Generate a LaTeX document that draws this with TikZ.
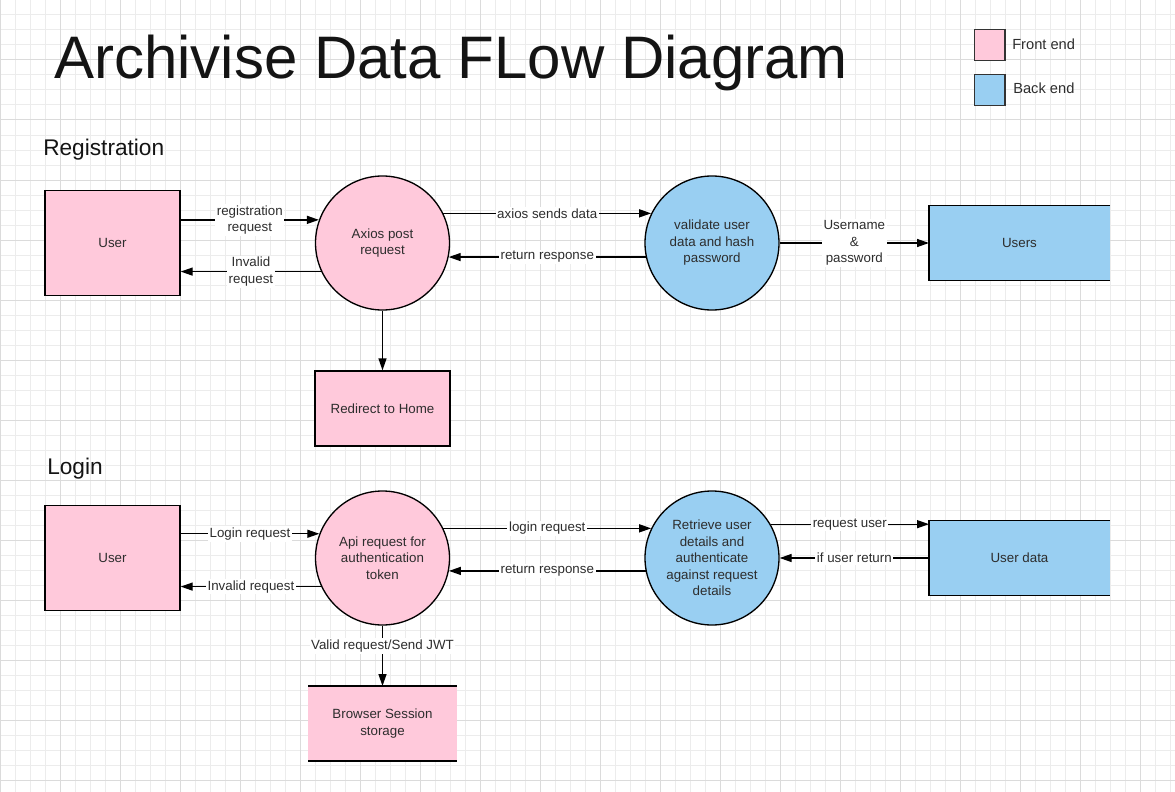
\documentclass[tikz,border=0pt]{standalone}
\usepackage{fontspec}
\setmainfont{Liberation Sans}
\usepackage{xcolor}
\usetikzlibrary{arrows.meta}

\definecolor{frontpink}{RGB}{255,201,219}
\definecolor{backblue}{RGB}{153,207,242}
\definecolor{inkgray}{RGB}{45,45,45}
\definecolor{gridminor}{RGB}{236,236,236}
\definecolor{gridmajor}{RGB}{219,219,219}

\begin{document}
\begin{tikzpicture}[x=0.75pt, y=-0.75pt,
  txt/.style={text=inkgray, font=\fontsize{10}{12.4}\selectfont, align=center},
  lbl/.style={txt, fill=white, inner sep=1.2pt},
  entity/.style={txt, draw=black, line width=1pt, fill=frontpink, inner sep=0pt,
    minimum width=101.25pt, minimum height=78.75pt},
  process/.style={txt, circle, draw=black, line width=1pt, inner sep=0pt, minimum size=100.5pt},
  store/.style={txt, fill=backblue, inner sep=0pt, outer sep=0pt,
    minimum width=135.75pt, minimum height=56.25pt},
  flow/.style={draw=black, line width=1pt, -{Triangle[length=9pt, width=6pt]}},
  heading/.style={text=black!92, inner sep=0pt, anchor=base west},
  key/.style={draw=black!80, line width=1pt, minimum size=23pt, inner sep=0pt}
]
\useasboundingbox (0,0) rectangle (1175,792);
% background grid
\foreach \gx in {0,15,...,1170} \draw[gridminor, line width=0.75pt] (\gx,0) -- (\gx,792);
\foreach \gy in {0,15,...,780} \draw[gridminor, line width=0.75pt] (0,\gy) -- (1175,\gy);
\foreach \gx in {0,60,...,1140} \draw[gridmajor, line width=0.75pt] (\gx,0) -- (\gx,792);
\foreach \gy in {0,60,...,780} \draw[gridmajor, line width=0.75pt] (0,\gy) -- (1175,\gy);

\node[heading, font=\fontsize{45}{50}\selectfont] (title) at (54,79) {Archivise Data FLow Diagram};
\node[key, fill=frontpink] (keyfront) at (989.5,45) {};
\node[key, fill=backblue] (keyback) at (989.5,90) {};
\node[heading, text=inkgray, font=\fontsize{11}{13}\selectfont] (keyfronttxt) at (1012,49.5) {Front end};
\node[heading, text=inkgray, font=\fontsize{11}{13}\selectfont] (keybacktxt) at (1013,93.5) {Back end};

% registration
\node[heading, font=\fontsize{17}{20}\selectfont] (regtitle) at (43,155) {Registration};
\node[entity] (reguser) at (112.5,243) {User};
\node[process, fill=frontpink] (axios) at (382.5,243) {Axios post\\request};
\node[process, fill=backblue] (validate) at (712,243) {validate user\\data and hash\\password};
\node[store] (users) at (1019.5,243) {Users};
\draw[line width=1pt] (users.north east) -- (users.north west) -- (users.south west) -- (users.south east);
\node[entity, minimum height=56.25pt] (redirect) at (382.5,408.5) {Redirect to Home};

\draw[flow] (reguser.east |- axios.160) -- node[lbl, midway] {registration\\request} (axios.160);
\draw[flow] (axios.205) -- node[lbl, midway] {Invalid\\request} (reguser.east |- axios.205);
\draw[flow] (axios.26) -- node[lbl, midway] {axios sends data} (validate.154);
\draw[flow] (validate.192) -- node[lbl, midway] {return response} (axios.-12);
\draw[flow] (validate.east) -- node[lbl, midway] {Username\\\&\\password} (users.west);
\draw[flow] (axios.south) -- (redirect.north);

% login
\node[heading, font=\fontsize{17}{20}\selectfont] (logtitle) at (47,474) {Login};
\node[entity] (loguser) at (112.5,558) {User};
\node[process, fill=frontpink] (api) at (382.5,558) {Api request for\\authentication\\token};
\node[process, fill=backblue] (retrieve) at (712,558) {Retrieve user\\details and\\authenticate\\against request\\details};
\node[store] (userdata) at (1019.5,558) {User data};
\draw[line width=1pt] (userdata.north east) -- (userdata.north west) -- (userdata.south west) -- (userdata.south east);
\node[txt, fill=frontpink, inner sep=0pt, outer sep=0pt, minimum width=111.75pt, minimum height=56.25pt] (browser) at (382.5,723.5) {Browser Session\\storage};
\draw[line width=1pt] (browser.north west) -- (browser.north east);
\draw[line width=1pt] (browser.south west) -- (browser.south east);

\draw[flow] (loguser.east |- api.159) -- node[lbl, midway] {Login request} (api.159);
\draw[flow] (api.205) -- node[lbl, midway] {Invalid request} (loguser.east |- api.205);
\draw[flow] (api.26) -- node[lbl, midway] {login request} (retrieve.154);
\draw[flow] (retrieve.191) -- node[lbl, midway] {return response} (api.-11);
\draw[flow] (retrieve.30) -- node[lbl, midway] {request user} (retrieve.30 -| userdata.west);
\draw[flow] (userdata.west) -- node[lbl, midway] {if user return} (retrieve.east);
\draw[flow] (api.south) -- node[lbl, pos=0.34] {Valid request/Send JWT} (browser.north);
\end{tikzpicture}
\end{document}
